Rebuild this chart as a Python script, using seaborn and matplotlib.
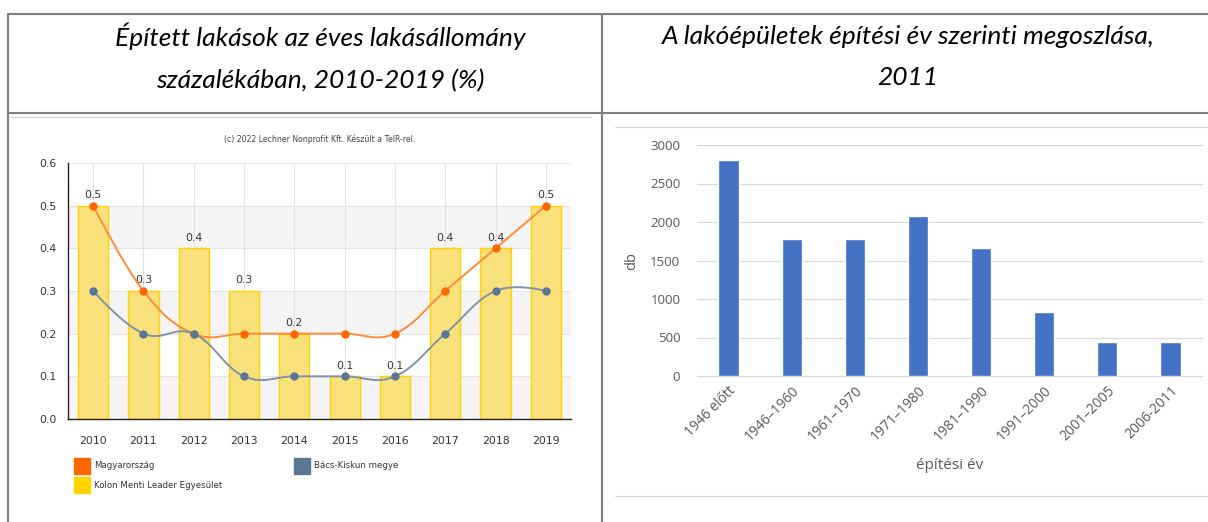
import numpy as np
import matplotlib
matplotlib.use("Agg")
import matplotlib.pyplot as plt
from matplotlib.path import Path
from matplotlib.patches import PathPatch, Rectangle
from matplotlib.lines import Line2D
import seaborn as sns

# --- data -------------------------------------------------------------
years = ['2010', '2011', '2012', '2013', '2014', '2015', '2016', '2017', '2018', '2019']
magyarorszag = [0.5, 0.3, 0.2, 0.2, 0.2, 0.2, 0.2, 0.3, 0.4, 0.5]
bacs_kiskun = [0.3, 0.2, 0.2, 0.1, 0.1, 0.1, 0.1, 0.2, 0.3, 0.3]
kolon_menti = [0.5, 0.3, 0.4, 0.3, 0.2, 0.1, 0.1, 0.4, 0.4, 0.5]

legend_labels = ['Magyarország', 'Bács-Kiskun megye', 'Kolon Menti Leader Egyesület']

periods = ['1946 előtt', '1946–1960', '1961–1970', '1971–1980',
           '1981–1990', '1991–2000', '2001–2005', '2006-2011']
buildings = [2810, 1780, 1780, 2080, 1660, 825, 445, 445]

left_title = 'Épített lakások az éves lakásállomány\nszázalékában, 2010-2019 (%)'
right_title = 'A lakóépületek építési év szerinti megoszlása,\n2011'

ORANGE = '#ff6600'
SLATE = '#5b7594'
YELLOW = '#ffd200'
BLUE = '#4472c4'

W, H = 1208, 522


def spline_path(xs, ys, smoothing=1.5):
    """Highcharts-style smooth curve through the points (cubic bezier)"""
    n = len(xs)
    conts = []
    for i in range(n):
        px, py = xs[i], ys[i]
        if i == 0 or i == n - 1:
            conts.append(((px, py), (px, py)))
            continue
        lx, ly = xs[i - 1], ys[i - 1]
        nx, ny = xs[i + 1], ys[i + 1]
        d = smoothing + 1
        lcx, lcy = (smoothing * px + lx) / d, (smoothing * py + ly) / d
        rcx, rcy = (smoothing * px + nx) / d, (smoothing * py + ny) / d
        corr = (rcy - lcy) * (rcx - px) / (rcx - lcx) + py - rcy
        conts.append(((lcx, lcy + corr), (rcx, rcy + corr)))
    verts = [(xs[0], ys[0])]
    codes = [Path.MOVETO]
    for i in range(1, n):
        verts += [conts[i - 1][1], conts[i][0], (xs[i], ys[i])]
        codes += [Path.CURVE4] * 3
    return Path(verts, codes)


def fx(px):
    return px / W


def fy(py):
    return 1 - py / H


sns.set_style("white")
plt.rcParams['font.family'] = ['DejaVu Sans']

fig = plt.figure(figsize=(W / 100, H / 100), dpi=100)
fig.patch.set_facecolor('white')

# --- table frame ------------------------------------------------------
frame = '#7f7f7f'
for (x0, y0, x1, y1) in [(8, 14, 1208, 14), (8, 113, 1208, 113),
                         (8, 14, 8, 522), (602, 14, 602, 522)]:
    fig.add_artist(Line2D([fx(x0), fx(x1)], [fy(y0), fy(y1)], color=frame, lw=1.5))
fig.add_artist(Line2D([fx(10), fx(591)], [fy(117), fy(117)], color='#d0d0d0', lw=0.8))
for yy in (127, 496):
    fig.add_artist(Line2D([fx(615), fx(1208)], [fy(yy), fy(yy)], color='#d9d9d9', lw=0.8))

head_font = dict(ha='center', va='center', fontsize=19, style='italic',
                 family=['Lato', 'DejaVu Sans'], linespacing=1.98, color='black')
fig.text(fx(320), fy(57), left_title, **head_font)
fig.text(fx(908), fy(57), right_title, **head_font)

# --- left chart -------------------------------------------------------
ax = fig.add_axes([fx(68), fy(419), fx(571) - fx(68), fy(163) - fy(419)])
for lo in (0.0, 0.2, 0.4):
    ax.axhspan(lo, lo + 0.1, color='#f4f4f4', zorder=0, lw=0)

sns.barplot(x=years, y=kolon_menti, color='#f8e17a', width=0.6, saturation=1,
            edgecolor=YELLOW, linewidth=1, ax=ax, zorder=2)
ax.bar_label(ax.containers[0], labels=[f'{v:.1f}' for v in kolon_menti],
             padding=4, fontsize=7.8, color='#333333')

xs = np.arange(len(years))
for vals, col in [(magyarorszag, '#ff8a3d'), (bacs_kiskun, '#7f93ab')]:
    ax.add_patch(PathPatch(spline_path(xs, vals), fill=False, edgecolor=col, lw=1.4, zorder=3))
ax.plot(xs, magyarorszag, 'o', color=ORANGE, ms=6, mec='none', zorder=4)
ax.plot(xs, bacs_kiskun, 'o', color=SLATE, ms=6, mec='none', zorder=4)

ax.set_xlim(-0.5, len(years) - 0.5)
ax.set_ylim(0, 0.6)
ax.set_yticks(np.arange(0, 0.61, 0.1))
ax.set_yticklabels([f'{v:.1f}' for v in np.arange(0, 0.61, 0.1)])
ax.grid(True, color='#e3e3e3', lw=0.8, zorder=1)
ax.set_axisbelow(True)
for s in ('top', 'right'):
    ax.spines[s].set_visible(False)
for s in ('left', 'bottom'):
    ax.spines[s].set_color('#222222')
    ax.spines[s].set_linewidth(1.0)
ax.tick_params(axis='both', length=5, width=0.8, color='#222222', labelsize=7.8,
               labelcolor='#333333', direction='out')
ax.tick_params(axis='x', pad=7)
ax.set_xlabel('')
ax.set_ylabel('')

fig.text(fx(320), fy(139), '(c) 2022 Lechner Nonprofit Kft. Készült a TeIR-rel.',
         ha='center', va='center', fontsize=5.6, color='#444444')

# legend (manual squares)
legend_pos = [(74, 466), (294, 466), (74, 485)]
for (lx, ly), lab, col in zip(legend_pos, legend_labels, [ORANGE, SLATE, '#ffd400']):
    fig.add_artist(Rectangle((fx(lx), fy(ly + 8)), 16 / W, 16 / H, color=col,
                             transform=fig.transFigure))
    fig.text(fx(lx + 20), fy(ly), lab, ha='left', va='center', fontsize=6.2, color='#333333')

# --- right chart ------------------------------------------------------
ax2 = fig.add_axes([fx(697), fy(376), fx(1202) - fx(697), fy(145) - fy(376)])
sns.barplot(x=periods, y=buildings, color=BLUE, width=0.32, saturation=1, ax=ax2, zorder=2)
ax2.set_xlim(-0.5, len(periods) - 0.5)
ax2.set_ylim(0, 3000)
ax2.set_yticks(range(0, 3001, 500))
ax2.grid(axis='y', color='#d9d9d9', lw=0.9, zorder=0, clip_on=False)
ax2.set_axisbelow(True)
sns.despine(ax=ax2, left=True, bottom=True)
ax2.tick_params(axis='both', length=0, labelsize=9.5, labelcolor='#595959')
ax2.tick_params(axis='x', labelsize=10, pad=5)
ax2.tick_params(axis='y', pad=12)
for lab in ax2.get_yticklabels():
    lab.set_family(['Open Sans', 'DejaVu Sans'])
for lab in ax2.get_xticklabels():
    lab.set_rotation(45)
    lab.set_ha('right')
    lab.set_va('top')
    lab.set_rotation_mode('anchor')
    lab.set_family(['Open Sans', 'DejaVu Sans'])
ax2.set_xlabel('építési év', fontsize=11, color='#595959', family=['Open Sans', 'DejaVu Sans'],
               labelpad=10)
ax2.set_ylabel('db', fontsize=10.5, color='#595959', family=['Open Sans', 'DejaVu Sans'],
               labelpad=8)

fig.savefig('out.png', dpi=100, facecolor='white')
